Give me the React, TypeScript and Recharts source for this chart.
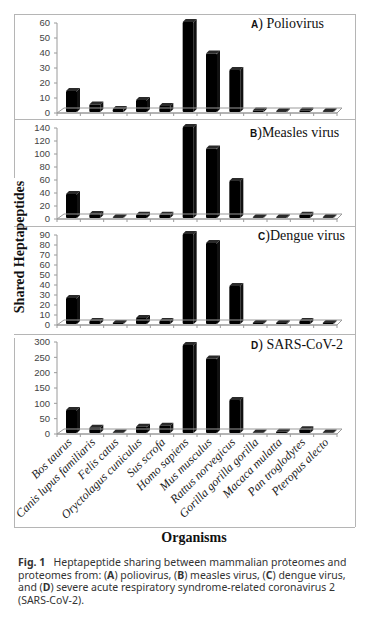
import React from 'react';
import { BarChart, Bar, XAxis, YAxis, ReferenceLine } from 'recharts';

const organisms = [
  'Bos taurus',
  'Canis lupus familiaris',
  'Felis catus',
  'Oryctolagus cuniculus',
  'Sus scrofa',
  'Homo sapiens',
  'Mus musculus',
  'Rattus norvegicus',
  'Gorilla gorilla gorilla',
  'Macaca mulatta',
  'Pan troglodytes',
  'Pteropus alecto',
];

// shared heptapeptides per organism
const poliovirus = [14, 5, 2, 8, 4, 60, 39, 28, 1, 0.5, 1, 0.5];
const measlesVirus = [37, 6, 1, 5, 5, 140, 107, 57, 1, 1, 5, 1];
const dengueVirus = [26, 3, 1, 6, 3, 90, 81, 38, 1, 1, 3, 1];
const sarsCov2 = [75, 17, 2, 20, 24, 287, 243, 108, 2, 4, 12, 2];

const polioTicks = [0, 10, 20, 30, 40, 50, 60];
const measlesTicks = [0, 20, 40, 60, 80, 100, 120, 140];
const dengueTicks = [0, 10, 20, 30, 40, 50, 60, 70, 80, 90];
const sarsTicks = [0, 50, 100, 150, 200, 250, 300];

const W = 369;
const PLOT_LEFT = 57;
const PLOT_RIGHT = 337;
const BAND = (PLOT_RIGHT - PLOT_LEFT) / organisms.length;
const AXIS_GRAY = '#9a9a9a';

const Bar3D = (props: any) => {
  const { x, y, width, height } = props;
  if (x == null || y == null) return null;
  const d = 3;
  const fx = x + 3;
  const fy = y - 1;
  const h = Math.max(height || 0, 0);
  return (
    <g>
      <path
        d={`M${fx},${fy} L${fx + d},${fy - d} L${fx + width + d},${fy - d} L${fx + width},${fy} Z`}
        fill="#2a2a2a"
      />
      <path
        d={`M${fx + width},${fy} L${fx + width + d},${fy - d} L${fx + width + d},${fy + h - d} L${fx + width},${fy + h} Z`}
        fill="#111"
      />
      <rect x={fx} y={fy} width={width} height={h} rx={1} fill="#000" />
    </g>
  );
};

const Floor = (p: any) => {
  const { x1, y1, x2, y2 } = p;
  if (x1 == null) return null;
  return (
    <path
      d={`M${x1},${y1} L${x2},${y2} L${x2 + 5},${y2 - 5} L${x1 + 7},${y1 - 5} Z`}
      fill="none"
      stroke={AXIS_GRAY}
      strokeWidth={1}
    />
  );
};

const makeTick = (showLabel: boolean) => (props: any) => {
  const { x, y, payload, index } = props;
  const half = BAND / 2;
  const lx = x + 4;
  const ly = y + 9;
  return (
    <g>
      <line x1={x - half} y1={y} x2={x - half} y2={y + 3} stroke={AXIS_GRAY} />
      {index === organisms.length - 1 && (
        <line x1={x + half} y1={y} x2={x + half} y2={y + 3} stroke={AXIS_GRAY} />
      )}
      {showLabel && (
        <text
          x={lx}
          y={ly}
          transform={`rotate(-45 ${lx} ${ly})`}
          textAnchor="end"
          fontFamily="Liberation Serif"
          fontStyle="italic"
          fontSize={12}
          fill="#222"
        >
          {payload.value}
        </text>
      )}
    </g>
  );
};

interface PanelProps {
  values: number[];
  ticks: number[];
  topY: number;
  zeroY: number;
  showLabels?: boolean;
}

const Panel: React.FC<PanelProps> = ({ values, ticks, topY, zeroY, showLabels }) => {
  const data = organisms.map((name, i) => ({ name, value: values[i] }));
  const mTop = 6;
  const axisH = showLabels ? 100 : 6;
  const height = mTop + (zeroY - topY) + axisH;
  return (
    <div style={{ position: 'absolute', left: 0, top: topY - mTop }}>
      <BarChart
        width={W}
        height={height}
        data={data}
        margin={{ top: mTop, right: W - PLOT_RIGHT, bottom: 0, left: 0 }}
        barSize={11}
      >
        <XAxis
          dataKey="name"
          height={axisH}
          interval={0}
          tickSize={0}
          tickMargin={0}
          tickLine={false}
          axisLine={{ stroke: AXIS_GRAY }}
          tick={makeTick(!!showLabels)}
        />
        <YAxis
          width={PLOT_LEFT}
          domain={[0, ticks[ticks.length - 1]]}
          ticks={ticks}
          interval={0}
          tickSize={3}
          tickMargin={4}
          axisLine={{ stroke: AXIS_GRAY }}
          tickLine={{ stroke: AXIS_GRAY }}
          tick={{ fontFamily: 'Liberation Sans', fontSize: 9.5, fill: '#444' }}
        />
        <ReferenceLine y={0} shape={Floor} />
        <Bar dataKey="value" shape={Bar3D} isAnimationActive={false} />
      </BarChart>
    </div>
  );
};

const titleSerif = 'Liberation Serif';
const titleSans = 'Liberation Sans';

const PanelTitle = ({ x, y, letter, rest }: { x: number; y: number; letter: string; rest: string }) => (
  <text x={x} y={y} fontFamily={titleSerif} fontSize={14} fill="#111">
    <tspan fontFamily={titleSans} fontWeight="bold" fontSize={10}>
      {letter}
    </tspan>
    {rest}
  </text>
);

export default function App() {
  return (
    <div
      style={{
        position: 'absolute',
        left: 0,
        top: 0,
        width: W,
        height: 627,
        background: '#fff',
        overflow: 'hidden',
      }}
    >
      <Panel values={poliovirus} ticks={polioTicks} topY={23} zeroY={113} />
      <Panel values={measlesVirus} ticks={measlesTicks} topY={128} zeroY={219} />
      <Panel values={dengueVirus} ticks={dengueTicks} topY={235} zeroY={325} />
      <Panel values={sarsCov2} ticks={sarsTicks} topY={342} zeroY={434} showLabels />

      <svg
        width={W}
        height={560}
        style={{ position: 'absolute', left: 0, top: 0, pointerEvents: 'none' }}
      >
        <g stroke="#b5b5b5" strokeWidth={1}>
          <line x1={14} y1={14.5} x2={355} y2={14.5} />
          <line x1={355.5} y1={14} x2={355.5} y2={527} />
          <line x1={14} y1={527.5} x2={355} y2={527.5} />
          <line x1={14.5} y1={14} x2={14.5} y2={178} />
          <line x1={14.5} y1={338} x2={14.5} y2={527} />
          <line x1={14} y1={119.5} x2={355} y2={119.5} />
          <line x1={14} y1={226.5} x2={355} y2={226.5} />
          <line x1={14} y1={334.5} x2={355} y2={334.5} />
        </g>
        <PanelTitle x={251} y={28} letter="A" rest=") Poliovirus" />
        <PanelTitle x={250} y={137} letter="B" rest=")Measles virus" />
        <PanelTitle x={258} y={240} letter="C" rest=")Dengue virus" />
        <PanelTitle x={251} y={349} letter="D" rest=") SARS-CoV-2" />
        <text
          transform="translate(19,247) rotate(-90)"
          textAnchor="middle"
          dominantBaseline="central"
          fontFamily={titleSerif}
          fontWeight="bold"
          fontSize={14}
          fill="#111"
        >
          Shared Heptapeptides
        </text>
        <text
          x={194}
          y={542}
          textAnchor="middle"
          fontFamily={titleSerif}
          fontWeight="bold"
          fontSize={14}
          fill="#111"
        >
          Organisms
        </text>
      </svg>

      <div
        style={{
          position: 'absolute',
          left: 18,
          top: 556,
          width: 345,
          fontFamily: 'Noto Sans',
          fontSize: 10.5,
          lineHeight: '12.5px',
          color: '#333',
          whiteSpace: 'nowrap',
        }}
      >
        <b>Fig. 1</b>&nbsp;&nbsp; Heptapeptide sharing between mammalian proteomes and
        <br />
        proteomes from: (<b>A</b>) poliovirus, (<b>B</b>) measles virus, (<b>C</b>) dengue virus,
        <br />
        and (<b>D</b>) severe acute respiratory syndrome-related coronavirus 2
        <br />
        (SARS-CoV-2).
      </div>
    </div>
  );
}
